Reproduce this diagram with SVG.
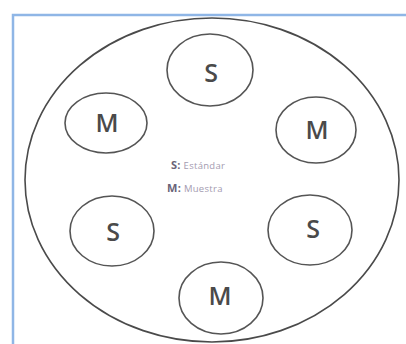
<svg xmlns="http://www.w3.org/2000/svg" width="406" height="344" viewBox="0 0 406 344">
<style>
.frame{fill:none;stroke:#8fb6e6;stroke-width:2.5}
.outer{fill:none;stroke:#4a4a4a;stroke-width:1.6}
.node ellipse{fill:none;stroke:#555;stroke-width:1.6}
.node text{font-family:"Open Sans","Liberation Sans",sans-serif;font-size:25px;font-weight:600;fill:#4a4a4a;text-anchor:middle;dominant-baseline:central}
.leg{font-family:"Open Sans","Liberation Sans",sans-serif;font-size:9.5px;fill:#a49bb0;letter-spacing:0.3px}
.leg .b{font-weight:bold;fill:#6a6378;font-size:11px}
</style>
<rect width="406" height="344" fill="#ffffff"/>
<path class="frame" d="M13 344 V15 H406"/>
<ellipse class="outer" cx="212" cy="180" rx="187" ry="162"/>
<g id="s-top" class="node"><ellipse cx="210" cy="70" rx="43" ry="36"/><text x="211" y="72">S</text></g>
<g id="m-left" class="node"><ellipse cx="106" cy="123" rx="41" ry="30"/><text x="107" y="122">M</text></g>
<g id="m-right" class="node"><ellipse cx="316" cy="130" rx="40" ry="33"/><text x="317" y="129">M</text></g>
<g id="s-left" class="node"><ellipse cx="112" cy="231" rx="42" ry="35"/><text x="113" y="231">S</text></g>
<g id="s-right" class="node"><ellipse cx="310" cy="230" rx="42" ry="35"/><text x="313" y="228">S</text></g>
<g id="m-bottom" class="node"><ellipse cx="221" cy="298" rx="42" ry="36"/><text x="220" y="295">M</text></g>
<g id="legend">
<text class="leg" x="171" y="169"><tspan class="b">S:</tspan> Estándar</text>
<text class="leg" x="167" y="192"><tspan class="b">M:</tspan> Muestra</text>
</g>
<g id="connectors"/>
</svg>
